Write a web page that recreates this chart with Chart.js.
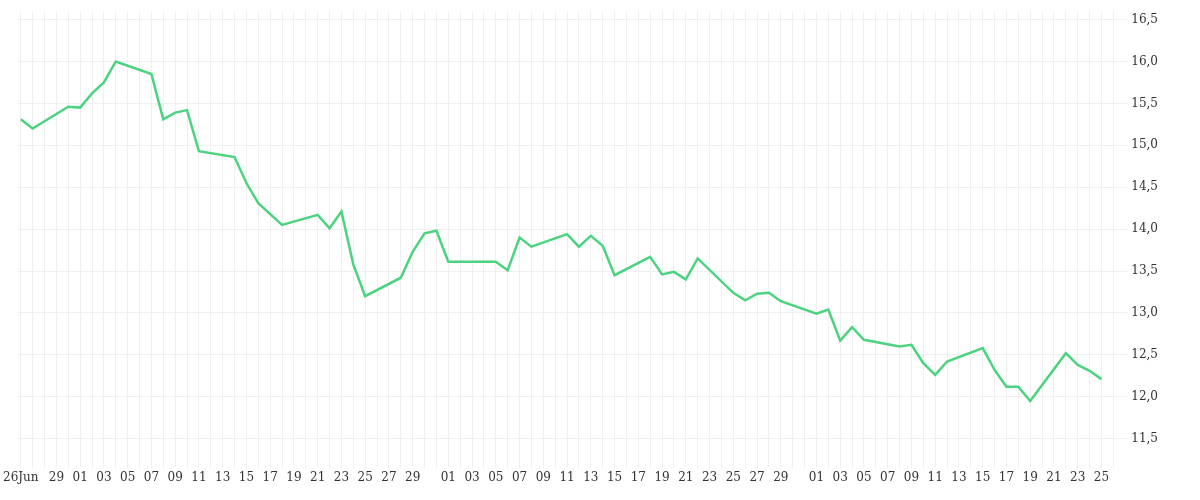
<!DOCTYPE html>
<html>
<head>
<meta charset="utf-8">
<script src="https://cdn.jsdelivr.net/npm/chart.js@4"></script>
<style>
  html, body { margin: 0; padding: 0; background: #fff; }
  #wrap { width: 1200px; height: 500px; }
</style>
</head>
<body>
<div id="wrap"><canvas id="chart"></canvas></div>
<script>
// day offsets from 26 Jun, and closing values
const days = [0, 1, 4, 5, 6, 7, 8, 11, 12, 13, 14, 15, 18, 19, 20, 22, 25, 26, 27, 28, 29,
  32, 33, 34, 35, 36, 40, 41, 42, 43, 46, 47, 48, 49, 50, 53, 54, 55, 56, 57, 60, 61, 62, 63, 64,
  67, 68, 69, 70, 71, 74, 75, 76, 77, 78, 81, 82, 83, 84, 85, 88, 89, 90, 91];
const values = [15.31, 15.20, 15.46, 15.45, 15.62, 15.75, 16.0, 15.85, 15.31, 15.39, 15.42, 14.93, 14.86, 14.55, 14.31, 14.05, 14.17, 14.01, 14.21, 13.58, 13.20,
  13.42, 13.73, 13.95, 13.98, 13.61, 13.61, 13.51, 13.90, 13.79, 13.94, 13.79, 13.92, 13.80, 13.45, 13.67, 13.46, 13.49, 13.40, 13.65, 13.24, 13.15, 13.23, 13.24, 13.14,
  12.99, 13.04, 12.67, 12.83, 12.68, 12.60, 12.62, 12.40, 12.26, 12.42, 12.58, 12.32, 12.12, 12.12, 11.95, 12.52, 12.38, 12.31, 12.21];

// x-axis tick labels and the day offsets they sit on
const tickLabels = ['26Jun', '29', '01', '03', '05', '07', '09', '11', '13', '15', '17', '19', '21', '23', '25', '27', '29',
  '01', '03', '05', '07', '09', '11', '13', '15', '17', '19', '21', '23', '25', '27', '29',
  '01', '03', '05', '07', '09', '11', '13', '15', '17', '19', '21', '23', '25'];
const tickPos = [0, 3, 5, 7, 9, 11, 13, 15, 17, 19, 21, 23, 25, 27, 29, 31, 33,
  36, 38, 40, 42, 44, 46, 48, 50, 52, 54, 56, 58, 60, 62, 64,
  67, 69, 71, 73, 75, 77, 79, 81, 83, 85, 87, 89, 91];

const serif = '"DejaVu Serif", "Liberation Serif", serif';

new Chart(document.getElementById('chart'), {
  type: 'line',
  data: {
    datasets: [{
      data: days.map((d, i) => ({ x: d, y: values[i] })),
      borderColor: '#4cd37f',
      borderWidth: 2.5,
      pointRadius: 0,
      tension: 0,
      fill: false
    }]
  },
  options: {
    responsive: true,
    maintainAspectRatio: false,
    animation: false,
    layout: { padding: { left: 0, right: 38, top: 10, bottom: 12 } },
    plugins: { legend: { display: false }, tooltip: { enabled: false } },
    scales: {
      x: {
        type: 'linear',
        min: -0.2,
        max: 92.5,
        afterBuildTicks: (axis) => {
          const t = [];
          for (let d = 0; d <= 92; d++) t.push({ value: d });
          axis.ticks = t;
        },
        grid: { color: '#efefef', tickLength: 8, drawTicks: true },
        border: { display: false },
        ticks: {
          autoSkip: false,
          maxRotation: 0,
          color: '#333',
          font: { family: serif, size: 12 },
          callback: (v) => {
            const i = tickPos.indexOf(v);
            return i >= 0 ? tickLabels[i] : '';
          }
        }
      },
      y: {
        position: 'right',
        min: 11.25,
        max: 16.6,
        afterBuildTicks: (axis) => {
          const t = [];
          for (let v = 11.5; v <= 16.5; v += 0.5) t.push({ value: v });
          axis.ticks = t;
        },
        grid: { color: '#efefef', tickLength: 8 },
        border: { display: false },
        ticks: {
          color: '#333',
          padding: 4,
          font: { family: serif, size: 12 },
          callback: (v) => v.toFixed(1).replace('.', ',')
        }
      }
    }
  }
});
</script>
</body>
</html>
